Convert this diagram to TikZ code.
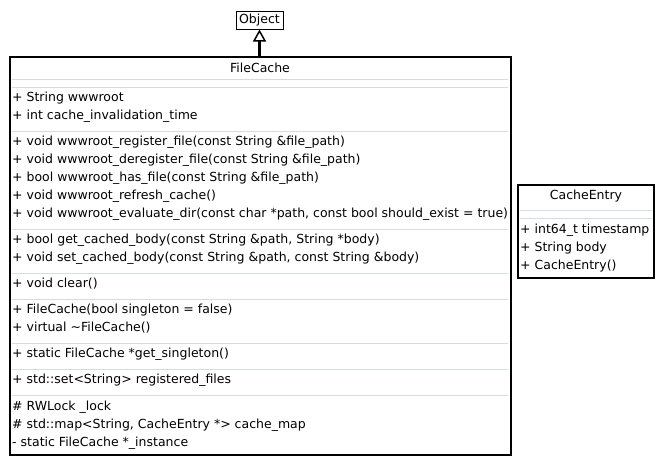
\documentclass[tikz,border=0pt]{standalone}
\usepackage{fontspec}
\setmainfont{DejaVu Sans}
\usetikzlibrary{arrows.meta}
\definecolor{sepcol}{HTML}{D3DCE0}
\begin{document}
\begin{tikzpicture}[x=1pt,y=-1pt,
  umlbox/.style={draw=black,line width=2pt},
  sepline/.style={draw=sepcol,line width=1pt},
  member/.style={anchor=west,inner sep=0pt,font=\fontsize{12.5}{14}\selectfont},
  ctitle/.style={anchor=center,inner sep=0pt,font=\fontsize{12.5}{14}\selectfont},
  gen/.style={line width=2.5pt,-{Triangle[open,length=12pt,width=13pt,line width=1.5pt]}}]
\useasboundingbox (0,0) rectangle (663,464);
% Object
\node[draw=black,line width=1pt,minimum width=47pt,minimum height=18pt,inner sep=0pt,
      font=\fontsize{12.5}{14}\selectfont] (obj) at (259.5,20) {Object};
% FileCache box
\draw[umlbox] (10,57) rectangle (511,455);
\coordinate (fctop) at (259.5,57);
\node[ctitle] (fct) at (260,68) {FileCache};
\draw[sepline] (12,79) -- (508,79);
\draw[sepline] (12,87) -- (508,87);
\node[member] (a1) at (12,98) {+ String wwwroot};
\node[member] (a2) at (12,116) {+ int cache\_invalidation\_time};
\draw[sepline] (12,131) -- (508,131);
\node[member] (m1) at (12,142) {+ void wwwroot\_register\_file(const String \&file\_path)};
\node[member] (m2) at (12,160) {+ void wwwroot\_deregister\_file(const String \&file\_path)};
\node[member] (m3) at (12,178) {+ bool wwwroot\_has\_file(const String \&file\_path)};
\node[member] (m4) at (12,196) {+ void wwwroot\_refresh\_cache()};
\node[member] (m5) at (12,214) {+ void wwwroot\_evaluate\_dir(const char *path, const bool should\_exist = true)};
\draw[sepline] (12,229) -- (508,229);
\node[member] (m6) at (12,240) {+ bool get\_cached\_body(const String \&path, String *body)};
\node[member] (m7) at (12,258) {+ void set\_cached\_body(const String \&path, const String \&body)};
\draw[sepline] (12,273) -- (508,273);
\node[member] (m8) at (12,284) {+ void clear()};
\draw[sepline] (12,299) -- (508,299);
\node[member] (m9) at (12,310) {+ FileCache(bool singleton = false)};
\node[member] (m10) at (12,328) {+ virtual \textasciitilde FileCache()};
\draw[sepline] (12,343) -- (508,343);
\node[member] (m11) at (12,354) {+ static FileCache *get\_singleton()};
\draw[sepline] (12,369) -- (508,369);
\node[member] (m12) at (12,380) {+ std::set<String> registered\_files};
\draw[sepline] (12,395) -- (508,395);
\node[member] (p1) at (12,407) {\# RWLock \_lock};
\node[member] (p2) at (12,425) {\# std::map<String, CacheEntry *> cache\_map};
\node[member] (p3) at (12,443) {- static FileCache *\_instance};
% CacheEntry box
\draw[umlbox] (518,185) rectangle (654,278);
\node[ctitle] (cet) at (586,196) {CacheEntry};
\draw[sepline] (520,210) -- (652,210);
\draw[sepline] (520,218) -- (652,218);
\node[member] (c1) at (520,230) {+ int64\_t timestamp};
\node[member] (c2) at (520,248) {+ String body};
\node[member] (c3) at (520,266) {+ CacheEntry()};
% generalization
\draw[gen] (fctop) -- (obj.south);
\end{tikzpicture}
\end{document}
